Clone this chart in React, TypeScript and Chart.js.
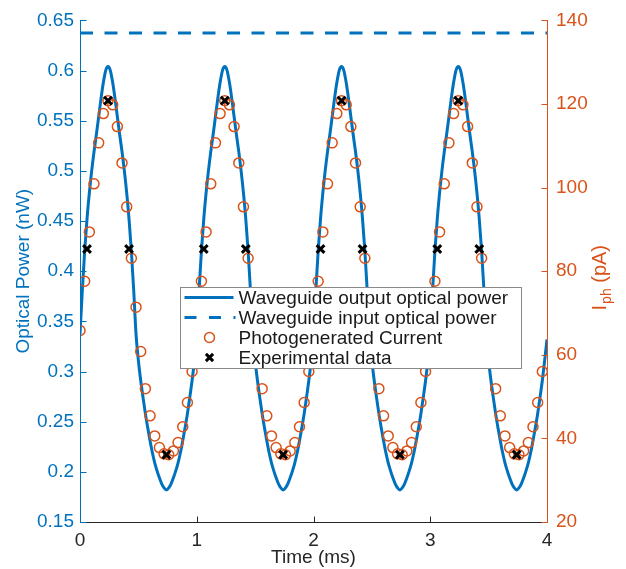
import React, { useEffect, useRef } from "react";
import { Chart, registerables } from "chart.js";

Chart.register(...registerables);

const BLUE = "#0072BD";
const ORANGE = "#D95319";
const AXIS_GRAY = "#262626";
const FONT_FAMILY = "'Liberation Sans', Arial, Helvetica, sans-serif";

// Tick values
const xTicks = [0, 1, 2, 3, 4];
const leftTicks = [0.15, 0.2, 0.25, 0.3, 0.35, 0.4, 0.45, 0.5, 0.55, 0.6, 0.65];
const rightTicks = [20, 40, 60, 80, 100, 120, 140];

// Waveguide output optical power (nW), sampled every 0.02 ms from 0 to 4 ms
const curveTimes = Array.from({ length: 201 }, (_, i) => Math.round(i * 2) / 100);
const outputPower = [
  0.337, 0.381, 0.420, 0.452, 0.478, 0.500, 0.519, 0.536, 0.554, 0.572, 0.588, 0.600, 0.604, 0.600, 0.588, 0.572, 0.554, 0.536, 0.519, 0.500, 0.478, 0.452, 0.420, 0.381, 0.337,
  0.311, 0.291, 0.274, 0.258, 0.244, 0.231, 0.219, 0.209, 0.201, 0.194, 0.188, 0.184, 0.182, 0.184, 0.188, 0.194, 0.201, 0.209, 0.219, 0.231, 0.244, 0.258, 0.274, 0.291, 0.311,
  0.337, 0.381, 0.420, 0.452, 0.478, 0.500, 0.519, 0.536, 0.554, 0.572, 0.588, 0.600, 0.604, 0.600, 0.588, 0.572, 0.554, 0.536, 0.519, 0.500, 0.478, 0.452, 0.420, 0.381, 0.337,
  0.311, 0.291, 0.274, 0.258, 0.244, 0.231, 0.219, 0.209, 0.201, 0.194, 0.188, 0.184, 0.182, 0.184, 0.188, 0.194, 0.201, 0.209, 0.219, 0.231, 0.244, 0.258, 0.274, 0.291, 0.311,
  0.337, 0.381, 0.420, 0.452, 0.478, 0.500, 0.519, 0.536, 0.554, 0.572, 0.588, 0.600, 0.604, 0.600, 0.588, 0.572, 0.554, 0.536, 0.519, 0.500, 0.478, 0.452, 0.420, 0.381, 0.337,
  0.311, 0.291, 0.274, 0.258, 0.244, 0.231, 0.219, 0.209, 0.201, 0.194, 0.188, 0.184, 0.182, 0.184, 0.188, 0.194, 0.201, 0.209, 0.219, 0.231, 0.244, 0.258, 0.274, 0.291, 0.311,
  0.337, 0.381, 0.420, 0.452, 0.478, 0.500, 0.519, 0.536, 0.554, 0.572, 0.588, 0.600, 0.604, 0.600, 0.588, 0.572, 0.554, 0.536, 0.519, 0.500, 0.478, 0.452, 0.420, 0.381, 0.337,
  0.311, 0.291, 0.274, 0.258, 0.244, 0.231, 0.219, 0.209, 0.201, 0.194, 0.188, 0.184, 0.182, 0.184, 0.188, 0.194, 0.201, 0.209, 0.219, 0.231, 0.244, 0.258, 0.274, 0.291, 0.311,
  0.332,
];

// Waveguide input optical power (nW)
const inputTimes = [0, 4];
const inputPower = [0.6375, 0.6375];

// Photogenerated current (pA), sampled every 0.04 ms
const currentTimes = Array.from({ length: 100 }, (_, i) => Math.round(i * 4) / 100);
const photoCurrent = [
  65.8, 77.6, 89.4, 100.9, 110.7, 117.7, 120.8, 119.8, 114.6, 105.9, 95.4, 83.1, 71.4, 60.8, 51.9, 45.4, 40.6, 37.8, 36.3, 36.1, 37.0, 39.0, 42.8, 48.6, 56.0,
  65.8, 77.6, 89.4, 100.9, 110.7, 117.7, 120.8, 119.8, 114.6, 105.9, 95.4, 83.1, 71.4, 60.8, 51.9, 45.4, 40.6, 37.8, 36.3, 36.1, 37.0, 39.0, 42.8, 48.6, 56.0,
  65.8, 77.6, 89.4, 100.9, 110.7, 117.7, 120.8, 119.8, 114.6, 105.9, 95.4, 83.1, 71.4, 60.8, 51.9, 45.4, 40.6, 37.8, 36.3, 36.1, 37.0, 39.0, 42.8, 48.6, 56.0,
  65.8, 77.6, 89.4, 100.9, 110.7, 117.7, 120.8, 119.8, 114.6, 105.9, 95.4, 83.1, 71.4, 60.8, 51.9, 45.4, 40.6, 37.8, 36.3, 36.1, 37.0, 39.0, 42.8, 48.6, 56.0,
];

// Experimental data (pA)
const expTimes = [0.06, 0.24, 0.42, 0.74, 1.06, 1.24, 1.42, 1.74, 2.06, 2.24, 2.42, 2.74, 3.06, 3.24, 3.42, 3.74];
const expCurrent = [85.3, 120.8, 85.3, 36.1, 85.3, 120.8, 85.3, 36.1, 85.3, 120.8, 85.3, 36.1, 85.3, 120.8, 85.3, 36.1];

const legendLabels = [
  "Waveguide output optical power",
  "Waveguide input optical power",
  "Photogenerated Current",
  "Experimental data",
];

const xTitle = "Time (ms)";
const leftTitle = "Optical Power (nW)";

const zip = (xs: number[], ys: number[]) => xs.map((x, i) => ({ x, y: ys[i] }));

const decorPlugin = {
  id: "decor",
  afterDraw(chart: any) {
    const { ctx, chartArea, scales } = chart;
    const { left, right, top, bottom } = chartArea;
    const L = Math.floor(left) + 0.5;
    const R = Math.floor(right) + 0.5;
    const B = Math.floor(bottom) + 0.5;
    const T = Math.floor(top);
    const tick = 6;
    ctx.save();
    ctx.lineWidth = 1;
    // bottom axis
    ctx.strokeStyle = AXIS_GRAY;
    ctx.beginPath();
    ctx.moveTo(L, B);
    ctx.lineTo(R, B);
    for (const v of xTicks) {
      const x = Math.round(scales.x.getPixelForValue(v)) + 0.5;
      ctx.moveTo(x, B);
      ctx.lineTo(x, B - tick);
    }
    ctx.stroke();
    // left axis
    ctx.strokeStyle = BLUE;
    ctx.beginPath();
    ctx.moveTo(L, T);
    ctx.lineTo(L, B);
    for (const v of leftTicks) {
      const y = Math.round(scales.y.getPixelForValue(v)) + 0.5;
      ctx.moveTo(L, y);
      ctx.lineTo(L + tick, y);
    }
    ctx.stroke();
    // right axis
    ctx.strokeStyle = ORANGE;
    ctx.beginPath();
    ctx.moveTo(R, T);
    ctx.lineTo(R, B);
    for (const v of rightTicks) {
      const y = Math.round(scales.y1.getPixelForValue(v)) + 0.5;
      ctx.moveTo(R, y);
      ctx.lineTo(R - tick, y);
    }
    ctx.stroke();

    // right axis title: I_ph (pA)
    const big = `20px ${FONT_FAMILY}`;
    const small = `14px ${FONT_FAMILY}`;
    ctx.font = big;
    const wI = ctx.measureText("I").width;
    const wRest = ctx.measureText(" (pA)").width;
    ctx.font = small;
    const wSub = ctx.measureText("ph").width;
    const total = wI + wSub + wRest;
    ctx.translate(600, (top + bottom) / 2 + 7);
    ctx.rotate(-Math.PI / 2);
    ctx.fillStyle = ORANGE;
    ctx.textBaseline = "middle";
    ctx.textAlign = "left";
    let cx = -total / 2;
    ctx.font = big;
    ctx.fillText("I", cx, 0);
    cx += wI + 1;
    ctx.font = small;
    ctx.fillText("ph", cx, 7);
    cx += wSub;
    ctx.font = big;
    ctx.fillText(" (pA)", cx, 0);
    ctx.restore();

    // legend
    ctx.save();
    const lx = left + 100.5;
    const ly = 287.5;
    const lw = 341;
    const lh = 81;
    ctx.fillStyle = "#ffffff";
    ctx.fillRect(lx, ly, lw, lh);
    ctx.strokeStyle = "#8a8a8a";
    ctx.lineWidth = 1;
    ctx.strokeRect(lx, ly, lw, lh);
    const rowY = [ly + 10, ly + 30, ly + 50, ly + 70];
    const symX0 = lx + 4;
    const symX1 = lx + 53;
    const symC = lx + 29;
    const textX = lx + 58;
    ctx.strokeStyle = BLUE;
    ctx.lineWidth = 3;
    ctx.beginPath();
    ctx.moveTo(symX0, rowY[0]);
    ctx.lineTo(symX1, rowY[0]);
    ctx.stroke();
    ctx.setLineDash([12, 12.5]);
    ctx.beginPath();
    ctx.moveTo(symX0, rowY[1]);
    ctx.lineTo(symX1 + 2, rowY[1]);
    ctx.stroke();
    ctx.setLineDash([]);
    ctx.strokeStyle = ORANGE;
    ctx.lineWidth = 1.5;
    ctx.beginPath();
    ctx.arc(symC, rowY[2], 5, 0, Math.PI * 2);
    ctx.stroke();
    ctx.strokeStyle = "#000";
    ctx.lineWidth = 3;
    const c = 3.6;
    ctx.beginPath();
    ctx.moveTo(symC - c, rowY[3] - c);
    ctx.lineTo(symC + c, rowY[3] + c);
    ctx.moveTo(symC - c, rowY[3] + c);
    ctx.lineTo(symC + c, rowY[3] - c);
    ctx.stroke();
    ctx.fillStyle = "#1a1a1a";
    ctx.font = `19px ${FONT_FAMILY}`;
    ctx.textBaseline = "middle";
    ctx.textAlign = "left";
    legendLabels.forEach((t, i) => ctx.fillText(t, textX, rowY[i] + 1));
    ctx.restore();
  },
};

export default function App() {
  const canvasRef = useRef<HTMLCanvasElement | null>(null);

  useEffect(() => {
    const canvas = canvasRef.current;
    if (!canvas) return;
    const font = { family: FONT_FAMILY, size: 19 };
    const chart = new Chart(canvas, {
      type: "line",
      data: {
        datasets: [
          {
            label: legendLabels[3],
            data: zip(expTimes, expCurrent),
            yAxisID: "y1",
            showLine: false,
            pointStyle: "crossRot",
            pointRadius: 5.5,
            pointBorderWidth: 3,
            pointBorderColor: "#000000",
            pointBackgroundColor: "#000000",
            order: 0,
          },
          {
            label: legendLabels[2],
            data: zip(currentTimes, photoCurrent),
            yAxisID: "y1",
            showLine: false,
            pointStyle: "circle",
            pointRadius: 5,
            pointBorderWidth: 1.5,
            pointBorderColor: ORANGE,
            pointBackgroundColor: "rgba(0,0,0,0)",
            order: 1,
          },
          {
            label: legendLabels[1],
            data: zip(inputTimes, inputPower),
            yAxisID: "y",
            borderColor: BLUE,
            borderWidth: 3,
            borderDash: [13, 11.5],
            pointRadius: 0,
            order: 2,
          },
          {
            label: legendLabels[0],
            data: zip(curveTimes, outputPower),
            yAxisID: "y",
            borderColor: BLUE,
            borderWidth: 3,
            pointRadius: 0,
            cubicInterpolationMode: "monotone",
            order: 3,
          },
        ],
      },
      options: {
        animation: false,
        responsive: false,
        devicePixelRatio: 1,
        layout: { padding: { top: 17, left: 0, right: 0, bottom: 0 } },
        plugins: {
          legend: { display: false },
          tooltip: { enabled: false },
        },
        scales: {
          x: {
            type: "linear",
            position: "bottom",
            min: 0,
            max: 4,
            afterBuildTicks: (s: any) => {
              s.ticks = xTicks.map((v) => ({ value: v }));
            },
            afterFit: (s: any) => {
              s.height = 47;
            },
            grid: { display: false, drawTicks: false },
            border: { display: false },
            ticks: { font, color: AXIS_GRAY, padding: 7, maxRotation: 0, autoSkip: false },
            title: { display: true, text: xTitle, font, color: AXIS_GRAY, padding: { top: 0, bottom: 0 } },
          },
          y: {
            type: "linear",
            position: "left",
            min: 0.15,
            max: 0.65,
            afterBuildTicks: (s: any) => {
              s.ticks = leftTicks.map((v) => ({ value: v }));
            },
            afterFit: (s: any) => {
              s.width = 80;
            },
            grid: { display: false, drawTicks: false },
            border: { display: false },
            ticks: {
              font,
              color: BLUE,
              padding: 6,
              autoSkip: false,
              callback: (v: any) => String(Number(Number(v).toFixed(2))),
            },
            title: { display: true, text: leftTitle, font, color: BLUE, padding: { top: 12, bottom: 0 } },
          },
          y1: {
            type: "linear",
            position: "right",
            min: 20,
            max: 140,
            afterBuildTicks: (s: any) => {
              s.ticks = rightTicks.map((v) => ({ value: v }));
            },
            afterFit: (s: any) => {
              s.width = 79;
            },
            grid: { display: false, drawTicks: false },
            border: { display: false },
            ticks: { font, color: ORANGE, padding: 9, autoSkip: false },
          },
        },
      },
      plugins: [decorPlugin],
    } as any);
    return () => chart.destroy();
  }, []);

  return (
    <div style={{ position: "fixed", left: 0, top: 0, width: 626, height: 569, background: "#fff" }}>
      <canvas ref={canvasRef} width={626} height={569} style={{ width: 626, height: 569, display: "block" }} />
    </div>
  );
}
